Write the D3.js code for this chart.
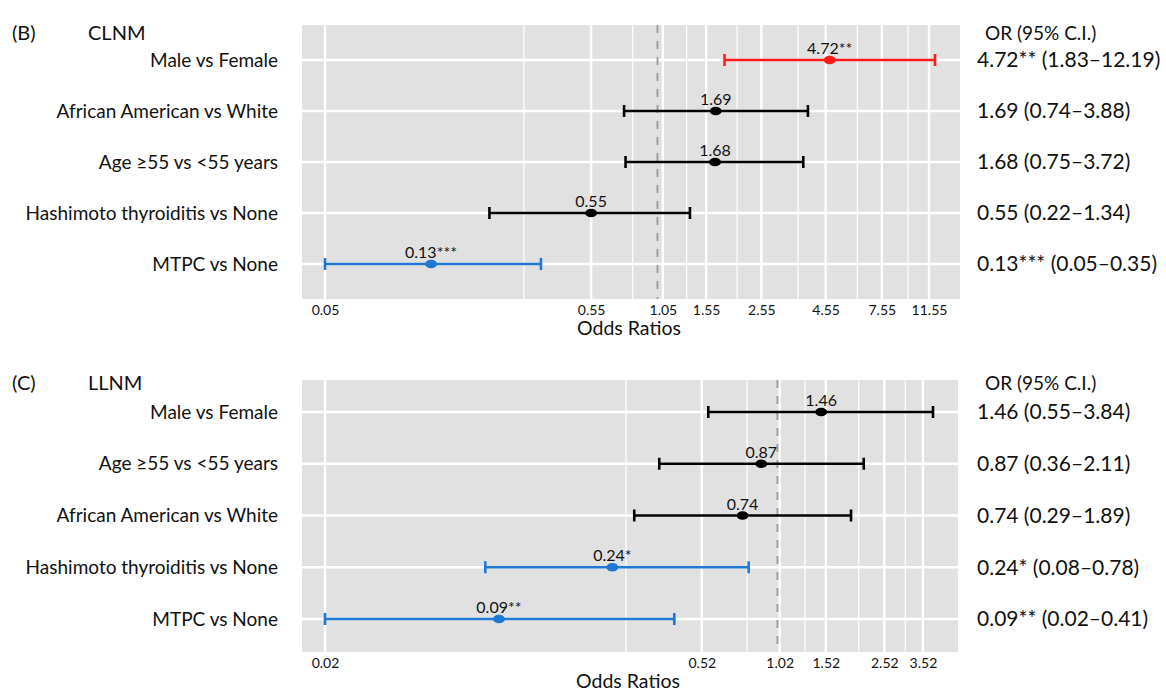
<!DOCTYPE html>
<html><head><meta charset="utf-8">
<script src="https://cdn.jsdelivr.net/npm/d3@7/dist/d3.min.js"></script>
<style>
html,body{margin:0;padding:0;background:#fff;}
text{font-family:Lato,"Open Sans",sans-serif;fill:#111;}
</style></head>
<body>
<svg id="chart" width="1166" height="691"></svg>
<script>
// ---- Data ----
const clnmLabels = ["Male vs Female","African American vs White","Age \u226555 vs <55 years","Hashimoto thyroiditis vs None","MTPC vs None"];
const clnmOR   = [4.72, 1.69, 1.68, 0.55, 0.13];
const clnmLow  = [1.83, 0.74, 0.75, 0.22, 0.05];
const clnmHigh = [12.19, 3.88, 3.72, 1.34, 0.35];
const clnmSig  = ["**", "", "", "", "***"];
const clnmTicks = [0.05, 0.55, 1.05, 1.55, 2.55, 4.55, 7.55, 11.55];

const llnmLabels = ["Male vs Female","Age \u226555 vs <55 years","African American vs White","Hashimoto thyroiditis vs None","MTPC vs None"];
const llnmOR   = [1.46, 0.87, 0.74, 0.24, 0.09];
const llnmLow  = [0.55, 0.36, 0.29, 0.08, 0.02];
const llnmHigh = [3.84, 2.11, 1.89, 0.78, 0.41];
const llnmSig  = ["", "", "", "*", "**"];
const llnmTicks = [0.02, 0.52, 1.02, 1.52, 2.52, 3.52];

const svg = d3.select("#chart");
const fmt = v => v.toFixed(2);

function panel(cfg){
  const g = svg.append("g");
  const n = cfg.labels.length;
  const rows = d3.range(n).map(i => ({
    label: cfg.labels[i], or: cfg.or[i], lo: cfg.low[i], hi: cfg.high[i], sig: cfg.sig[i]
  }));
  const lo = d3.min(rows, d => d.lo), hi = d3.max(rows, d => d.hi);
  const x = d3.scaleLog().domain([lo, hi]).range([cfg.x0, cfg.x1]);
  const y = d3.scalePoint().domain(cfg.labels).range([cfg.y0, cfg.y1]);
  const left = cfg.x0 - 23, right = cfg.x1 + 25;
  const top = cfg.top, bottom = cfg.bottom;

  g.append("rect").attr("x", left).attr("y", top).attr("width", right - left)
   .attr("height", bottom - top).attr("fill", "#e1e1e1");

  // minor gridlines: midpoints between breaks (linear space, as coord_trans)
  const minors = [];
  for (let i = 0; i < cfg.ticks.length - 1; i++) minors.push((cfg.ticks[i] + cfg.ticks[i+1]) / 2);
  g.selectAll(".minor").data(minors).join("line")
   .attr("x1", d => x(d)).attr("x2", d => x(d)).attr("y1", top).attr("y2", bottom)
   .attr("stroke", "#fff").attr("stroke-width", 1.2);
  g.selectAll(".major").data(cfg.ticks).join("line")
   .attr("x1", d => x(d)).attr("x2", d => x(d)).attr("y1", top).attr("y2", bottom)
   .attr("stroke", "#fff").attr("stroke-width", 2.4);
  g.selectAll(".hgrid").data(cfg.labels).join("line")
   .attr("x1", left).attr("x2", right).attr("y1", d => y(d)).attr("y2", d => y(d))
   .attr("stroke", "#fff").attr("stroke-width", 2.4);

  // reference line at OR = 1
  g.append("line").attr("x1", x(1)).attr("x2", x(1)).attr("y1", top).attr("y2", bottom)
   .attr("stroke", "#9a9a9a").attr("stroke-width", 1.8).attr("stroke-dasharray", "8,8");

  // x axis (tick labels only)
  const axis = d3.axisBottom(x).tickValues(cfg.ticks).tickFormat(fmt).tickSize(0).tickPadding(0);
  const ax = g.append("g").attr("transform", `translate(0,${bottom})`).call(axis);
  ax.select(".domain").remove();
  ax.selectAll("text").attr("dy", null).attr("y", 16).style("font-size", "14px")
    .style("font-family", "Lato,sans-serif").attr("fill", "#222");
  g.append("text").attr("x", (left + right) / 2 - 2).attr("y", bottom + 36)
   .attr("text-anchor", "middle").style("font-size", "19.5px").text("Odds Ratios");

  const col = d => d.sig ? (d.or > 1 ? "#ff1a1a" : "#1f78d1") : "#000";

  const rg = g.selectAll(".row").data(rows).join("g");
  rg.append("line").attr("x1", d => x(d.lo)).attr("x2", d => x(d.hi))
    .attr("y1", d => y(d.label)).attr("y2", d => y(d.label))
    .attr("stroke", col).attr("stroke-width", 2.6);
  rg.append("line").attr("x1", d => x(d.lo)).attr("x2", d => x(d.lo))
    .attr("y1", d => y(d.label) - 6).attr("y2", d => y(d.label) + 6)
    .attr("stroke", col).attr("stroke-width", 2.6);
  rg.append("line").attr("x1", d => x(d.hi)).attr("x2", d => x(d.hi))
    .attr("y1", d => y(d.label) - 6).attr("y2", d => y(d.label) + 6)
    .attr("stroke", col).attr("stroke-width", 2.6);
  rg.append("ellipse").attr("cx", d => x(d.or)).attr("cy", d => y(d.label))
    .attr("rx", 6).attr("ry", 4.3).attr("fill", col);
  rg.append("text").attr("x", d => x(d.or)).attr("y", d => y(d.label) - 6)
    .attr("text-anchor", "middle").style("font-size", "16px").attr("fill", "#222")
    .text(d => fmt(d.or) + d.sig);

  // row labels
  rg.append("text").attr("x", 278).attr("y", d => y(d.label)).attr("dy", "0.35em")
    .attr("text-anchor", "end").style("font-size", "19px").text(d => d.label);
  // right column
  rg.append("text").attr("x", 977).attr("y", d => y(d.label)).attr("dy", "0.35em")
    .style("font-size", "21px")
    .text(d => `${fmt(d.or)}${d.sig} (${fmt(d.lo)}\u2013${fmt(d.hi)})`);

  svg.append("text").attr("x", 12).attr("y", cfg.titleY).attr("dy", "0.35em")
    .style("font-size", "20px").text(cfg.tag);
  svg.append("text").attr("x", 88).attr("y", cfg.titleY).attr("dy", "0.35em")
    .style("font-size", "20px").text(cfg.title);
  svg.append("text").attr("x", 985).attr("y", cfg.titleY).attr("dy", "0.35em")
    .style("font-size", "19px").text("OR (95% C.I.)");
}

panel({labels: clnmLabels, or: clnmOR, low: clnmLow, high: clnmHigh, sig: clnmSig, ticks: clnmTicks,
       x0: 325, x1: 935, y0: 60, y1: 264, top: 25, bottom: 299, titleY: 33, tag: "(B)", title: "CLNM"});
panel({labels: llnmLabels, or: llnmOR, low: llnmLow, high: llnmHigh, sig: llnmSig, ticks: llnmTicks,
       x0: 325, x1: 933, y0: 412, y1: 619, top: 380, bottom: 652, titleY: 383, tag: "(C)", title: "LLNM"});
</script>
</body></html>
